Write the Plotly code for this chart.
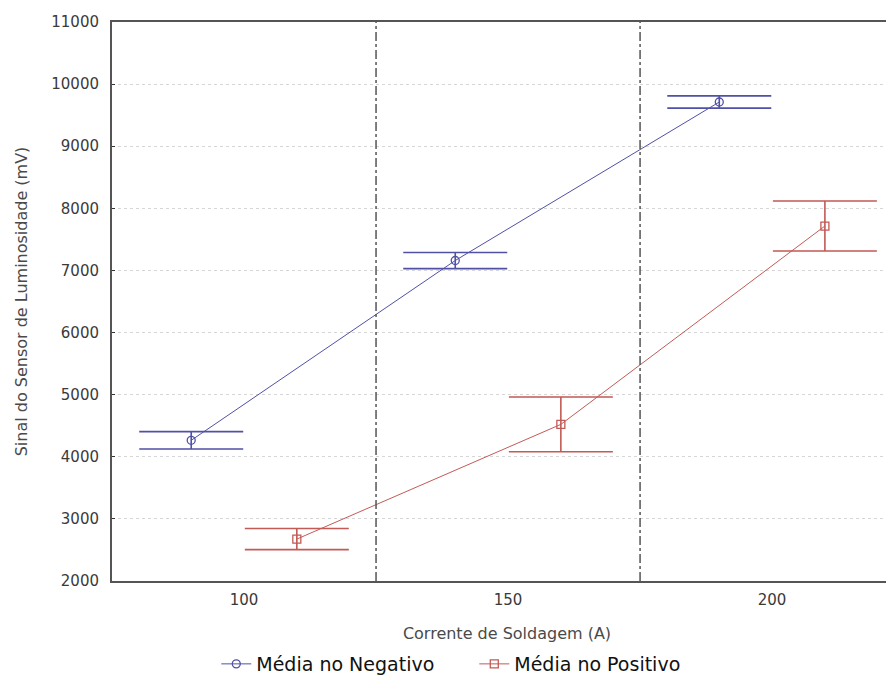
import plotly.graph_objects as go

# Data
x_neg = [90, 140, 190]
y_neg = [4265, 7160, 9712]
err_neg = [140, 130, 98]

x_pos = [110, 160, 210]
y_pos = [2675, 4522, 7715]
err_pos = [170, 440, 402]

tick_vals = [100, 150, 200]
tick_text = ["100", "150", "200"]
y_ticks = [2000, 3000, 4000, 5000, 6000, 7000, 8000, 9000, 10000, 11000]
separators = [125, 175]

blue = "#5050A6"
red = "#C25A56"

fig = go.Figure()
fig.add_trace(go.Scatter(
    x=x_neg, y=y_neg, mode="lines+markers", name="Média no Negativo",
    line=dict(color=blue, width=1),
    marker=dict(symbol="circle-open", size=8, color=blue, line=dict(width=1.3)),
    error_y=dict(type="data", array=err_neg, visible=True, color=blue, thickness=1.6, width=52),
))
fig.add_trace(go.Scatter(
    x=x_pos, y=y_pos, mode="lines+markers", name="Média no Positivo",
    line=dict(color=red, width=1),
    marker=dict(symbol="square-open", size=8, color=red, line=dict(width=1.3)),
    error_y=dict(type="data", array=err_pos, visible=True, color=red, thickness=1.6, width=52),
))

for s in separators:
    fig.add_shape(type="line", xref="x", yref="paper", x0=s, x1=s, y0=0, y1=1,
                  line=dict(color="#555555", width=1.5, dash="dashdot"))

font_family = "DejaVu Sans, Verdana, sans-serif"
fig.update_layout(
    width=894, height=676,
    margin=dict(l=104, r=0, t=14, b=103),
    paper_bgcolor="white", plot_bgcolor="white",
    font=dict(family=font_family, size=15, color="#3A3A3A"),
    showlegend=True,
    legend=dict(orientation="h", x=0.132, xanchor="left", y=-0.1485, yanchor="middle",
                font=dict(size=19, color="#111111"), tracegroupgap=0,
                entrywidth=213, entrywidthmode="pixels"),
    xaxis=dict(
        range=[75, 224.6], tickvals=tick_vals, ticktext=tick_text,
        showgrid=False, zeroline=False,
        showline=True, linecolor="#555555", linewidth=2, mirror=True,
        ticks="", tickfont=dict(size=15, color="#3A3A3A"), ticklabelstandoff=4,
        title=dict(text="Corrente de Soldagem (A)", font=dict(size=16, color="#4A4A4A"), standoff=20),
    ),
    yaxis=dict(
        range=[2000, 11000], tickvals=y_ticks, ticktext=[str(v) for v in y_ticks],
        showgrid=True, gridcolor="#D6D6D6", griddash="3px,3px", gridwidth=1,
        zeroline=False, showline=True, linecolor="#555555", linewidth=2,
        ticks="inside", ticklen=3, tickcolor="#333333",
        tickfont=dict(size=15, color="#3A3A3A"), ticklabelstandoff=8,
        title=dict(text="Sinal do Sensor de Luminosidade (mV)", font=dict(size=16, color="#4A4A4A"), standoff=20),
    ),
)

fig.write_html("out.html")
